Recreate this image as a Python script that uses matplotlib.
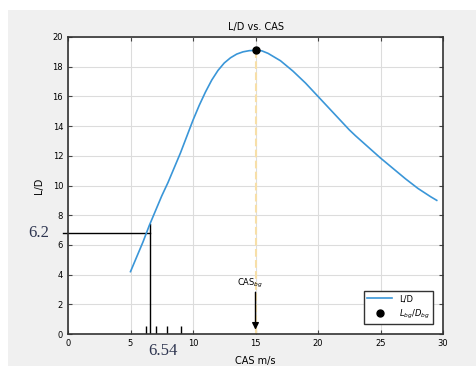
import numpy as np
import matplotlib
matplotlib.use("Agg")
import matplotlib.pyplot as plt
from matplotlib.patches import Rectangle

# L/D curve
cas = [5, 5.5, 6, 6.5, 7, 7.5, 8, 8.5, 9, 9.5, 10, 10.5, 11, 11.5, 12, 12.5,
       13, 13.5, 14, 14.5, 15, 15.5, 16, 16.5, 17, 17.5, 18, 18.5, 19, 19.5,
       20, 20.5, 21, 21.5, 22, 22.5, 23, 24, 25, 26, 27, 28, 29, 29.5]
ld = [4.2, 5.2, 6.2, 7.3, 8.3, 9.3, 10.2, 11.2, 12.2, 13.3, 14.4, 15.4, 16.3,
      17.1, 17.75, 18.25, 18.6, 18.85, 19.0, 19.08, 19.1, 19.07, 18.9, 18.65,
      18.4, 18.05, 17.7, 17.3, 16.9, 16.45, 16.0, 15.55, 15.1, 14.65, 14.2,
      13.75, 13.35, 12.6, 11.85, 11.15, 10.45, 9.8, 9.25, 9.0]
cas_bg = 15
ld_bg = 19.1
cas_min = 6.54
ld_min = 6.8
small_ticks = [6.2, 7.0, 7.9, 9.0]

blue = '#3a96d8'

fig = plt.figure(figsize=(4.76, 3.66), dpi=100, facecolor='white')
fig.patches.append(Rectangle((8/476, 0), 1, 356/366, transform=fig.transFigure,
                             facecolor='#f0f0f0', edgecolor='none', zorder=-10))
ax = fig.add_axes([68/476, 1-334/366, 375/476, 297/366])

ax.plot(cas, ld, color=blue, lw=1.2, label='L/D', zorder=3)
ax.plot([cas_bg, cas_bg], [0, ld_bg], color='#f7dfa8', lw=1.5, ls='--', zorder=2)
ax.plot(cas_bg, ld_bg, 'o', color='black', ms=5, label=r'$L_{bg}/D_{bg}$', zorder=4)

# 6.2 / 6.54 marks
ax.plot([-0.4, cas_min], [ld_min, ld_min], color='black', lw=1, clip_on=False)
ax.plot([cas_min, cas_min], [0, 7.4], color='black', lw=1)
ax.vlines(small_ticks, 0, 0.55, color='black', lw=1)
ax.text(-1.5, ld_min, '6.2', family='Liberation Serif', fontsize=12,
        color='#2e3550', ha='right', va='center')
ax.text(7.6, -1.15, '6.54', family='Liberation Serif', fontsize=12,
        color='#2e3550', ha='center', va='center', clip_on=False)

ax.annotate('', xy=(cas_bg, 0.1), xytext=(cas_bg, 3.0),
            arrowprops=dict(arrowstyle='-|>', color='black', lw=1, mutation_scale=10))
ax.text(13.5, 3.4, r'CAS$_{bg}$', fontsize=6, ha='left', va='center')

ax.set_xlim(0, 30)
ax.set_ylim(0, 20)
ax.set_xticks(range(0, 31, 5))
ax.set_yticks(range(0, 21, 2))
ax.grid(True, color='#dcdcdc', lw=0.8)
ax.set_axisbelow(True)
ax.tick_params(direction='in', top=True, right=True, labelsize=6, length=3,
               color='#444444')
for s in ax.spines.values():
    s.set_color('#333333')
    s.set_linewidth(1.2)
ax.set_title('L/D vs. CAS', fontsize=7, pad=5)
ax.set_xlabel('CAS m/s', fontsize=7, labelpad=6)
ax.set_ylabel('L/D', fontsize=7, labelpad=6)

ax.legend(loc='lower right', fontsize=6, framealpha=1, edgecolor='#333333',
          fancybox=False, handlelength=3, bbox_to_anchor=(0.985, 0.02))

fig.savefig('out.png', dpi=100)
